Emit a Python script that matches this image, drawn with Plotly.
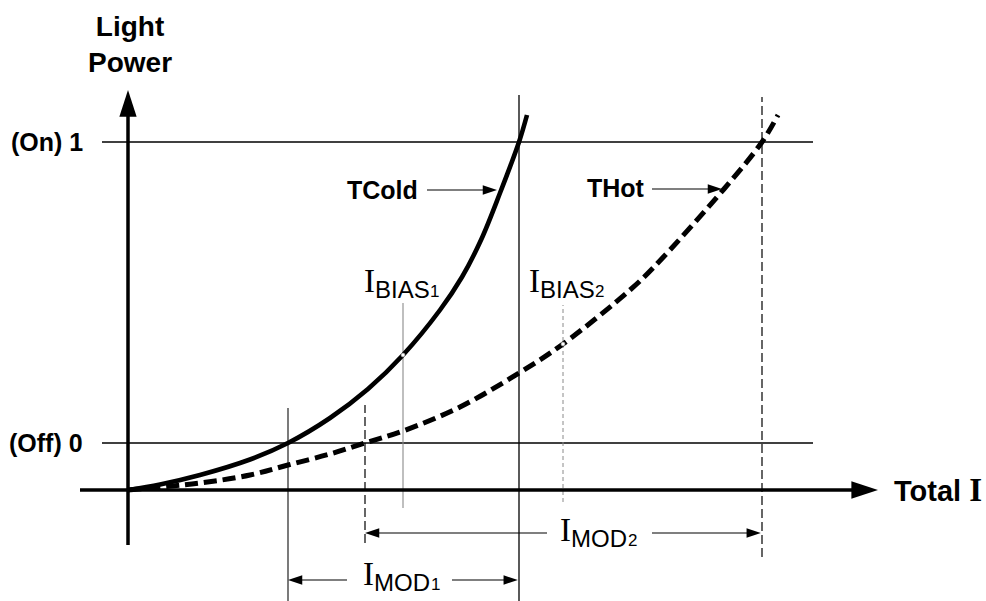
import plotly.graph_objects as go

# ---------------- data (current in mA, light power in mW; illustrative units) ----------------
i_cold = [0, 8, 18, 30.5, 40, 50.5, 60, 68.75, 78, 83.5, 88.25, 93, 97.75, 99.75]
p_cold = [0, 0.055, 0.15, 0.305, 0.47, 0.72, 1.01, 1.35, 1.80, 2.13, 2.50, 2.97, 3.48, 3.75]

i_hot = [0, 18, 30.5, 40, 50.5, 59.25, 68.75, 83, 97.75, 108.75, 125.5, 131.25, 149, 158.5, 162.5]
p_hot = [0, 0.07, 0.15, 0.25, 0.36, 0.47, 0.59, 0.83, 1.17, 1.46, 2.00, 2.22, 3.01, 3.48, 3.75]

level_labels = ["(Off) 0", "(On) 1"]
level_values = [0.47, 3.48]

curve_names = ["TCold", "THot"]
i_threshold = [40, 59.25]      # current where each curve reaches the Off level
i_on = [97.75, 158.5]          # current where each curve reaches the On level
i_bias = [68.75, 108.75]
p_bias = [1.35, 1.46]
index_labels = ["1", "2"]

# ---------------- figure ----------------
SANS = "Liberation Sans"
SERIF = "Liberation Serif"
BLACK = "#000000"
GRAY = "#8a8a8a"

fig = go.Figure()

fig.add_trace(go.Scatter(x=i_cold, y=p_cold, mode="lines",
                         line=dict(color=BLACK, width=4.6, shape="spline", smoothing=1.0),
                         hoverinfo="skip", name=curve_names[0]))
fig.add_trace(go.Scatter(x=i_hot, y=p_hot, mode="lines",
                         line=dict(color=BLACK, width=5, dash="13px,6px", shape="spline", smoothing=1.0),
                         hoverinfo="skip", name=curve_names[1]))
fig.add_trace(go.Scatter(x=i_bias, y=p_bias, mode="markers",
                         marker=dict(size=4, color="white", opacity=1, line=dict(color=GRAY, width=0.6)),
                         hoverinfo="skip"))


def arrow(x_tip, y_tip, x_tail, y_tail, width, head):
    fig.add_trace(go.Scatter(
        x=[x_tail, x_tip], y=[y_tail, y_tip], mode="lines+markers",
        line=dict(color=BLACK, width=width),
        marker=dict(symbol="arrow", angleref="previous", size=[0, head], color=BLACK,
                    opacity=1, line=dict(width=0)),
        hoverinfo="skip"))


# main axes
arrow(0, 4.0, 0, -0.55, 3.5, 28)
arrow(187.5, 0, -12, 0, 3.5, 28)

# curve name pointers
arrow(92.25, 3.0, 74.75, 3.0, 1.2, 15)
arrow(148.5, 3.01, 131, 3.01, 1.2, 15)

# modulation dimension arrows
imod_y = [-0.90, -0.43]
imod_tail_left = [54.75, 104.75]
imod_tail_right = [81.0, 131.0]
for k in range(2):
    arrow(i_threshold[k], imod_y[k], imod_tail_left[k], imod_y[k], 1.2, 15)
    arrow(i_on[k] - 0.3, imod_y[k], imod_tail_right[k], imod_y[k], 1.2, 15)

shapes = []
for v in level_values:
    shapes.append(dict(type="line", x0=-6.5, x1=171.25, y0=v, y1=v,
                       line=dict(color=BLACK, width=1.6), layer="below"))
shapes.append(dict(type="line", x0=i_threshold[0], x1=i_threshold[0], y0=-1.2, y1=0.82,
                   line=dict(color="#222222", width=1.2), layer="below"))
shapes.append(dict(type="line", x0=i_threshold[1], x1=i_threshold[1], y0=-0.53, y1=0.85,
                   line=dict(color=BLACK, width=1.2, dash="9px,4px"), layer="below"))
shapes.append(dict(type="line", x0=i_on[0], x1=i_on[0], y0=-1.2, y1=3.95,
                   line=dict(color=BLACK, width=1.3), layer="below"))
shapes.append(dict(type="line", x0=i_on[1], x1=i_on[1], y0=-0.67, y1=3.93,
                   line=dict(color=BLACK, width=1.2, dash="9px,4px"), layer="below"))
shapes.append(dict(type="line", x0=i_bias[0], x1=i_bias[0], y0=-0.18, y1=1.87,
                   line=dict(color=GRAY, width=1.1), layer="below"))
shapes.append(dict(type="line", x0=i_bias[1], x1=i_bias[1], y0=-0.12, y1=1.85,
                   line=dict(color=GRAY, width=1.0, dash="4px,3px"), layer="below"))
for s in shapes:
    s["xref"] = "x"
    s["yref"] = "y"

ann = []


def piece(x, y, text, family, size, xshift, drop):
    """Text placed with its baseline `drop` px below y, left edge xshift px right of x."""
    desc = 0.216 if family == SERIF else 0.212
    ann.append(dict(x=x, y=y, text=text, showarrow=False, xanchor="left", yanchor="bottom",
                    borderpad=0, xshift=xshift, yshift=-(desc * size) - drop,
                    font=dict(family=family, size=size, color=BLACK)))


def compound_label(x_left, y_base, word, idx, idx_shift):
    piece(x_left, y_base, "I", SERIF, 33, 0, 0)
    piece(x_left, y_base, word, SANS, 24, 10.5, 5.5)
    piece(x_left, y_base, idx, SANS, 17, idx_shift, 5.5)


# I_BIAS labels
compound_label(58.75, 1.97, "BIAS", index_labels[0], 66)
compound_label(100.0, 1.97, "BIAS", index_labels[1], 66)
# I_MOD labels
compound_label(58.5, -0.96, "MOD", index_labels[0], 68)
compound_label(107.75, -0.52, "MOD", index_labels[1], 68)

# curve names
ann.append(dict(x=73, y=3.0, text=f"<b>{curve_names[0]}</b>", showarrow=False, xanchor="right", yanchor="middle",
                font=dict(family=SANS, size=25, color=BLACK)))
ann.append(dict(x=129.75, y=3.02, text=f"<b>{curve_names[1]}</b>", showarrow=False, xanchor="right", yanchor="middle",
                font=dict(family=SANS, size=25, color=BLACK)))

# level labels
for lab, v in zip(level_labels, level_values):
    ann.append(dict(x=-10.75, y=v, text=f"<b>{lab}</b>", showarrow=False, xanchor="right", yanchor="middle",
                    font=dict(family=SANS, size=25, color=BLACK)))

# axis titles
ann.append(dict(x=0.5, y=4.46, text="<b>Light<br>Power</b>", showarrow=False, xanchor="center", yanchor="middle",
                font=dict(family=SANS, size=28, color=BLACK)))
ann.append(dict(x=191.0, y=0, showarrow=False, xanchor="left", yanchor="middle",
                text=f'<b>Total <span style="font-family:{SERIF};font-size:33px">I</span></b>',
                font=dict(family=SANS, size=29, color=BLACK)))

for a in ann:
    a["xref"] = "x"
    a["yref"] = "y"

fig.update_layout(
    width=986, height=601, autosize=False,
    margin=dict(l=0, r=0, t=0, b=0, pad=0),
    paper_bgcolor="white", plot_bgcolor="white",
    showlegend=False,
    xaxis=dict(visible=False, range=[-32, 214.5], fixedrange=True),
    yaxis=dict(visible=False, range=[-1.11, 4.90], fixedrange=True),
    shapes=shapes, annotations=ann,
)

fig.write_html("out.html", config={"displayModeBar": False, "staticPlot": True},
               post_script="document.body.style.margin='0';document.body.style.overflow='hidden';")
